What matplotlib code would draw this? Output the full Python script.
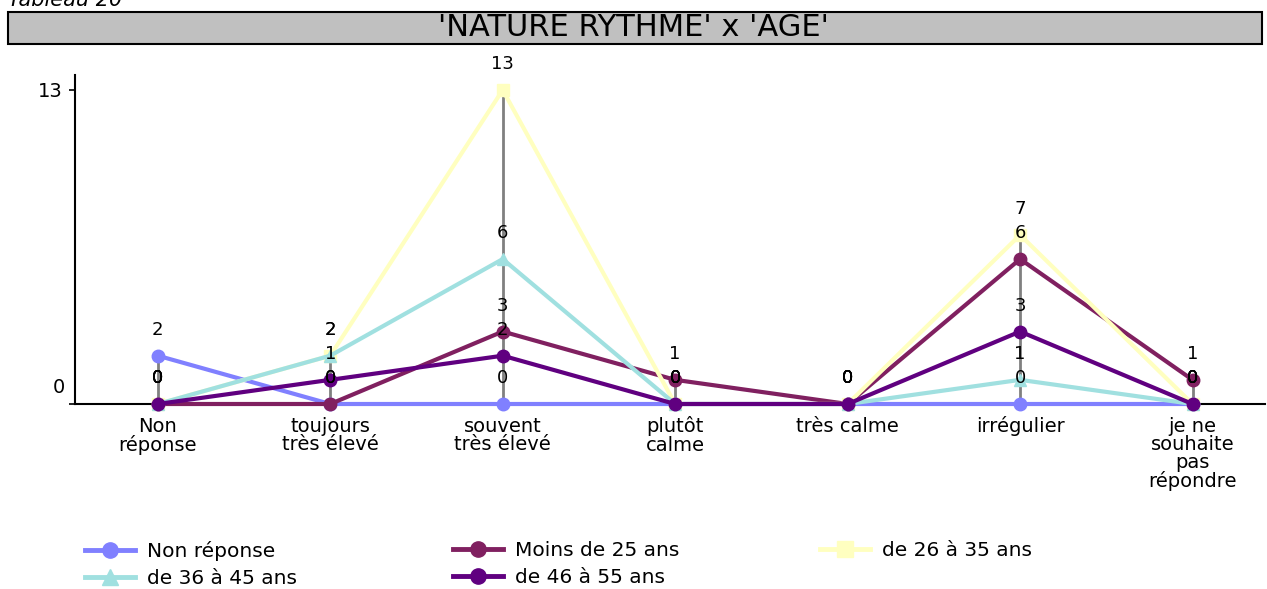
import matplotlib.pyplot as plt
from matplotlib.patches import Rectangle
from matplotlib.lines import Line2D

plt.rcParams['font.family'] = ['DejaVu Sans']

categories = ['Non\nréponse', 'toujours\ntrès élevé', 'souvent\ntrès élevé', 'plutôt\ncalme',
              'très calme', 'irrégulier', 'je ne\nsouhaite\npas\nrépondre']
series_names = ['Non réponse', 'Moins de 25 ans', 'de 26 à 35 ans', 'de 36 à 45 ans', 'de 46 à 55 ans']
non_reponse = [2, 0, 0, 0, 0, 0, 0]
moins_25 = [0, 0, 3, 1, 0, 6, 1]
de_26_35 = [0, 2, 13, 0, 0, 7, 0]
de_36_45 = [0, 2, 6, 0, 0, 1, 0]
de_46_55 = [0, 1, 2, 0, 0, 3, 0]

values = [non_reponse, moins_25, de_26_35, de_36_45, de_46_55]
colors = ['#8080FF', '#802060', '#FFFFC0', '#A0E0E0', '#600080']
markers = ['o', 'o', 's', '^', 'o']

fig = plt.figure(figsize=(12.67, 5.89), dpi=100)
ax = fig.add_axes([75 / 1267, 185 / 589, 1190 / 1267, 329 / 589])

x = list(range(len(categories)))

# lignes grises verticales (0 -> max)
highs = [max(v[i] for v in values) for i in x]
ax.vlines(x, 0, highs, color='#808080', lw=2, zorder=1)

for name, v, c, m in zip(series_names, values, colors, markers):
    ax.plot(x, v, color=c, marker=m, ms=9, lw=3, label=name, clip_on=False, zorder=3)

for v in values:
    for i, y in zip(x, v):
        ax.annotate(str(y), (i, y), xytext=(0, 18.5), textcoords='offset points',
                    ha='center', va='center', fontsize=13, zorder=5)

ax.set_xlim(-0.48, 6.42)
ax.set_ylim(0, 13.62)
ax.set_xticks(x)
ax.set_xticklabels(categories, fontsize=14, linespacing=0.95)
ax.tick_params(axis='x', length=0, pad=9)
ax.set_yticks([0, 13])
ax.set_yticklabels(['', '13'], fontsize=14)
ax.annotate('0', xy=(0, 0), xycoords=('axes fraction', 'data'), xytext=(-7, 12),
            textcoords='offset points', ha='right', va='center', fontsize=14)
ax.tick_params(axis='y', length=4, width=1.2, pad=5)
for s in ['top', 'right']:
    ax.spines[s].set_visible(False)
for s in ['left', 'bottom']:
    ax.spines[s].set_linewidth(1.5)

# titre
fig.patches.append(Rectangle((8 / 1267, 545 / 589), 1254 / 1267, 32 / 589,
                             transform=fig.transFigure, facecolor='#C0C0C0',
                             edgecolor='black', lw=1.5))
fig.text(0.5, 561 / 589, "'NATURE RYTHME' x 'AGE'", ha='center', va='center', fontsize=22)
fig.text(8 / 1267, 1 - 6 / 589, 'Tableau 20', ha='left', va='baseline',
         fontsize=15, style='italic')

# légende (3 colonnes)
handles = [Line2D([], [], color=c, marker=m, ms=11, lw=3.5) for c, m in zip(colors, markers)]
columns = [([0, 3], 85), ([1, 4], 453), ([2], 820)]
for idx, xpos in columns:
    fig.legend([handles[i] for i in idx], [series_names[i] for i in idx],
               loc='upper left', bbox_to_anchor=(xpos / 1267, 1 - 541 / 589),
               frameon=False, fontsize=14.5, handlelength=2.5, handletextpad=0.6,
               labelspacing=0.4, borderaxespad=0, borderpad=0)

fig.savefig('out.png', dpi=100)
